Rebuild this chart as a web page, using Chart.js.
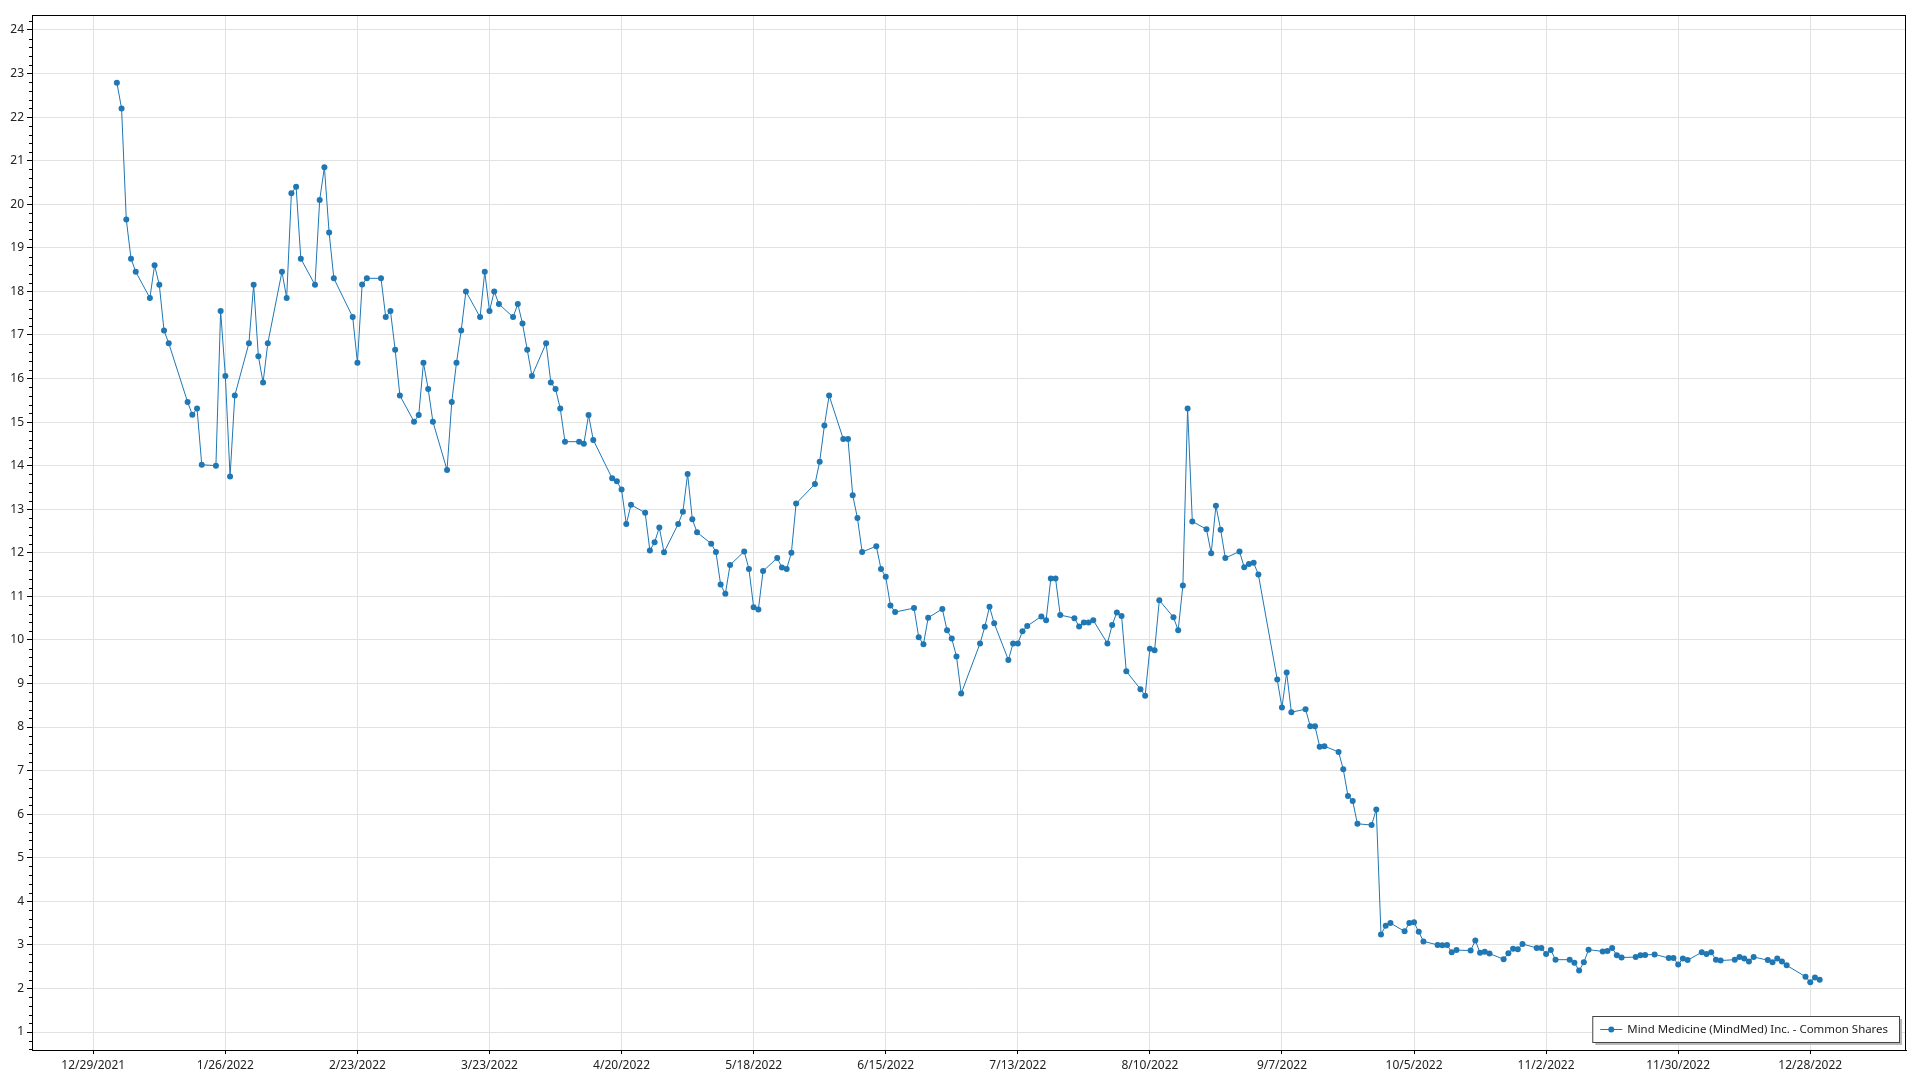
<!DOCTYPE html>
<html>
<head>
<meta charset="utf-8">
<script src="https://cdn.jsdelivr.net/npm/chart.js@4.4.1/dist/chart.umd.min.js"></script>
<style>
    html, body { margin: 0; padding: 0; background: #fff; }
    #chart { display: block; }
</style>
</head>
<body>
<canvas id="chart" width="1920" height="1080"></canvas>
<script>
// Serie: cierre diario 2022
const seriesLabel = 'Mind Medicine (MindMed) Inc. - Common Shares';

const dates = [
    '2022-01-03','2022-01-04','2022-01-05','2022-01-06','2022-01-07','2022-01-10','2022-01-11','2022-01-12','2022-01-13','2022-01-14',
    '2022-01-18','2022-01-19','2022-01-20','2022-01-21','2022-01-24','2022-01-25','2022-01-26','2022-01-27','2022-01-28','2022-01-31',
    '2022-02-01','2022-02-02','2022-02-03','2022-02-04','2022-02-07','2022-02-08','2022-02-09','2022-02-10','2022-02-11','2022-02-14',
    '2022-02-15','2022-02-16','2022-02-17','2022-02-18','2022-02-22','2022-02-23','2022-02-24','2022-02-25','2022-02-28',
    '2022-03-01','2022-03-02','2022-03-03','2022-03-04','2022-03-07','2022-03-08','2022-03-09','2022-03-10','2022-03-11','2022-03-14',
    '2022-03-15','2022-03-16','2022-03-17','2022-03-18','2022-03-21','2022-03-22','2022-03-23','2022-03-24','2022-03-25','2022-03-28',
    '2022-03-29','2022-03-30','2022-03-31',
    '2022-04-01','2022-04-04','2022-04-05','2022-04-06','2022-04-07','2022-04-08','2022-04-11','2022-04-12','2022-04-13','2022-04-14',
    '2022-04-18','2022-04-19','2022-04-20','2022-04-21','2022-04-22','2022-04-25','2022-04-26','2022-04-27','2022-04-28','2022-04-29',
    '2022-05-02','2022-05-03','2022-05-04','2022-05-05','2022-05-06','2022-05-09','2022-05-10','2022-05-11','2022-05-12','2022-05-13',
    '2022-05-16','2022-05-17','2022-05-18','2022-05-19','2022-05-20','2022-05-23','2022-05-24','2022-05-25','2022-05-26','2022-05-27',
    '2022-05-31',
    '2022-06-01','2022-06-02','2022-06-03','2022-06-06','2022-06-07','2022-06-08','2022-06-09','2022-06-10','2022-06-13','2022-06-14',
    '2022-06-15','2022-06-16','2022-06-17','2022-06-21','2022-06-22','2022-06-23','2022-06-24','2022-06-27','2022-06-28','2022-06-29',
    '2022-06-30',
    '2022-07-01','2022-07-05','2022-07-06','2022-07-07','2022-07-08','2022-07-11','2022-07-12','2022-07-13','2022-07-14','2022-07-15',
    '2022-07-18','2022-07-19','2022-07-20','2022-07-21','2022-07-22','2022-07-25','2022-07-26','2022-07-27','2022-07-28','2022-07-29',
    '2022-08-01','2022-08-02','2022-08-03','2022-08-04','2022-08-05','2022-08-08','2022-08-09','2022-08-10','2022-08-11','2022-08-12',
    '2022-08-15','2022-08-16','2022-08-17','2022-08-18','2022-08-19','2022-08-22','2022-08-23','2022-08-24','2022-08-25','2022-08-26',
    '2022-08-29','2022-08-30','2022-08-31',
    '2022-09-01','2022-09-02','2022-09-06','2022-09-07','2022-09-08','2022-09-09','2022-09-12','2022-09-13','2022-09-14','2022-09-15',
    '2022-09-16','2022-09-19','2022-09-20','2022-09-21','2022-09-22','2022-09-23','2022-09-26','2022-09-27','2022-09-28','2022-09-29',
    '2022-09-30',
    '2022-10-03','2022-10-04','2022-10-05','2022-10-06','2022-10-07','2022-10-10','2022-10-11','2022-10-12','2022-10-13','2022-10-14',
    '2022-10-17','2022-10-18','2022-10-19','2022-10-20','2022-10-21','2022-10-24','2022-10-25','2022-10-26','2022-10-27','2022-10-28',
    '2022-10-31',
    '2022-11-01','2022-11-02','2022-11-03','2022-11-04','2022-11-07','2022-11-08','2022-11-09','2022-11-10','2022-11-11','2022-11-14',
    '2022-11-15','2022-11-16','2022-11-17','2022-11-18','2022-11-21','2022-11-22','2022-11-23','2022-11-25','2022-11-28','2022-11-29',
    '2022-11-30',
    '2022-12-01','2022-12-02','2022-12-05','2022-12-06','2022-12-07','2022-12-08','2022-12-09','2022-12-12','2022-12-13','2022-12-14',
    '2022-12-15','2022-12-16','2022-12-19','2022-12-20','2022-12-21','2022-12-22','2022-12-23','2022-12-27','2022-12-28','2022-12-29',
    '2022-12-30'
];

const prices = [
    22.79, 22.20, 19.65, 18.75, 18.45, 17.85, 18.60, 18.15, 17.10, 16.81,
    15.46, 15.17, 15.31, 14.02, 14.00, 17.55, 16.06, 13.75, 15.61, 16.81,
    18.15, 16.51, 15.91, 16.81, 18.45, 17.85, 20.25, 20.40, 18.75, 18.15,
    20.10, 20.85, 19.35, 18.30, 17.41, 16.36, 18.16, 18.30, 18.30,
    17.41, 17.55, 16.66, 15.61, 15.01, 15.16, 16.36, 15.76, 15.01, 13.90,
    15.46, 16.36, 17.10, 18.00, 17.41, 18.45, 17.55, 18.00, 17.71, 17.41,
    17.71, 17.26, 16.66,
    16.06, 16.81, 15.91, 15.76, 15.31, 14.55, 14.55, 14.50, 15.16, 14.59,
    13.71, 13.64, 13.45, 12.66, 13.10, 12.92, 12.05, 12.24, 12.58, 12.01,
    12.66, 12.94, 13.81, 12.77, 12.47, 12.21, 12.02, 11.27, 11.06, 11.72,
    12.03, 11.63, 10.75, 10.70, 11.58, 11.88, 11.66, 11.63, 12.00, 13.13,
    13.58,
    14.09, 14.92, 15.61, 14.61, 14.61, 13.32, 12.80, 12.02, 12.15, 11.63,
    11.45, 10.79, 10.64, 10.73, 10.06, 9.90, 10.51, 10.71, 10.22, 10.03,
    9.62,
    8.77, 9.92, 10.30, 10.76, 10.38, 9.54, 9.92, 9.92, 10.20, 10.32,
    10.54, 10.45, 11.41, 11.41, 10.57, 10.50, 10.31, 10.40, 10.40, 10.45,
    9.92, 10.34, 10.63, 10.55, 9.28, 8.87, 8.72, 9.80, 9.76, 10.91,
    10.52, 10.22, 11.25, 15.31, 12.72, 12.54, 11.99, 13.08, 12.53, 11.88,
    12.03, 11.67, 11.74,
    11.77, 11.50, 9.09, 8.45, 9.25, 8.34, 8.41, 8.02, 8.02, 7.55,
    7.56, 7.43, 7.03, 6.42, 6.30, 5.78, 5.75, 6.11, 3.24, 3.44,
    3.50,
    3.31, 3.50, 3.52, 3.30, 3.08, 3.00, 2.99, 3.00, 2.83, 2.88,
    2.87, 3.10, 2.82, 2.84, 2.80, 2.67, 2.81, 2.91, 2.90, 3.02,
    2.93,
    2.93, 2.79, 2.88, 2.66, 2.66, 2.59, 2.41, 2.60, 2.89, 2.85,
    2.86, 2.93, 2.76, 2.71, 2.72, 2.76, 2.77, 2.78, 2.70, 2.70,
    2.55,
    2.69, 2.65, 2.83, 2.79, 2.83, 2.66, 2.64, 2.66, 2.72, 2.69,
    2.62, 2.72, 2.65, 2.60, 2.69, 2.62, 2.53, 2.27, 2.14, 2.25,
    2.20
];

// Etiquetas de ejes
const xTickLabels = ['12/29/2021', '1/26/2022', '2/23/2022', '3/23/2022', '4/20/2022', '5/18/2022', '6/15/2022',
    '7/13/2022', '8/10/2022', '9/7/2022', '10/5/2022', '11/2/2022', '11/30/2022', '12/28/2022'];
const yTickValues = [1, 2, 3, 4, 5, 6, 7, 8, 9, 10, 11, 12, 13, 14, 15, 16, 17, 18, 19, 20, 21, 22, 23, 24];

const DAY = 86400000;
const LINE_COLOR = '#1f77b4';
const GRID_COLOR = '#e2e2e2';
const FONT = "'Noto Sans', 'DejaVu Sans', sans-serif";

function parseIso(s) {
    const [y, m, d] = s.split('-').map(Number);
    return Date.UTC(y, m - 1, d);
}

function parseUs(s) {
    const [m, d, y] = s.split('/').map(Number);
    return Date.UTC(y, m - 1, d);
}

const xTickTimes = xTickLabels.map(parseUs);
const origin = xTickTimes[0];

const points = dates.map((d, i) => ({ x: parseIso(d), y: prices[i] }));

/**
 * Marco, ticks menores y leyenda
 */
const framePlugin = {
    id: 'frame',
    afterDraw(chart) {
        const { ctx, chartArea } = chart;
        const yScale = chart.scales.y;
        ctx.save();

        // ticks menores del eje Y
        ctx.strokeStyle = '#000';
        ctx.lineWidth = 1;
        ctx.beginPath();
        for (let v = 0.6; v < yScale.max; v += 0.2) {
            const r = Math.round(v * 10) / 10;
            if (Number.isInteger(r)) continue;
            const py = Math.round(yScale.getPixelForValue(r)) + 0.5;
            ctx.moveTo(chartArea.left - 3, py);
            ctx.lineTo(chartArea.left, py);
        }
        ctx.stroke();

        // marco
        ctx.strokeRect(Math.round(chartArea.left) + 0.5, Math.round(chartArea.top) + 0.5,
            Math.round(chartArea.right - chartArea.left) - 1, Math.round(chartArea.bottom - chartArea.top));

        // leyenda
        let size = 12;
        ctx.font = size + 'px ' + FONT;
        const w0 = ctx.measureText(seriesLabel).width;
        if (w0 > 261) {
            size = size * 261 / w0;
            ctx.font = size.toFixed(2) + 'px ' + FONT;
        }
        const textW = ctx.measureText(seriesLabel).width;
        const boxR = chartArea.right - 7;
        const boxB = chartArea.bottom - 8;
        const boxH = 26;
        const boxW = textW + 46;
        const boxL = boxR - boxW;
        const boxT = boxB - boxH;

        ctx.fillStyle = '#b8b8b8';
        ctx.fillRect(boxL + 3, boxT + 3, boxW, boxH);
        ctx.fillStyle = '#fff';
        ctx.fillRect(boxL, boxT, boxW, boxH);
        ctx.strokeStyle = '#444';
        ctx.strokeRect(boxL + 0.5, boxT + 0.5, boxW, boxH);

        const cy = boxT + boxH / 2 + 0.5;
        ctx.strokeStyle = LINE_COLOR;
        ctx.beginPath();
        ctx.moveTo(boxL + 8, cy);
        ctx.lineTo(boxL + 30, cy);
        ctx.stroke();
        ctx.fillStyle = LINE_COLOR;
        ctx.beginPath();
        ctx.arc(boxL + 19, cy, 3, 0, Math.PI * 2);
        ctx.fill();

        ctx.fillStyle = '#222';
        ctx.textBaseline = 'middle';
        ctx.fillText(seriesLabel, boxL + 35, cy);
        ctx.restore();
    }
};

const ctx = document.getElementById('chart').getContext('2d');
new Chart(ctx, {
    type: 'line',
    data: {
        datasets: [{
            label: seriesLabel,
            data: points,
            borderColor: LINE_COLOR,
            backgroundColor: LINE_COLOR,
            borderWidth: 1,
            pointRadius: 3,
            pointBorderWidth: 0,
            pointBackgroundColor: LINE_COLOR,
            tension: 0
        }]
    },
    options: {
        responsive: false,
        animation: false,
        devicePixelRatio: 1,
        layout: { padding: { top: 15, right: 14, left: 0, bottom: 0 } },
        plugins: {
            legend: { display: false },
            tooltip: { enabled: false }
        },
        scales: {
            x: {
                type: 'linear',
                min: origin - 12.99 * DAY,
                max: origin + 384.3 * DAY,
                afterBuildTicks: (scale) => { scale.ticks = xTickTimes.map(v => ({ value: v })); },
                afterFit: (scale) => { scale.height = 30; },
                grid: { color: GRID_COLOR, tickColor: '#000', tickLength: 4 },
                border: { color: '#000', width: 1 },
                ticks: {
                    autoSkip: false,
                    maxRotation: 0,
                    padding: 4,
                    color: '#222',
                    font: { family: FONT, size: 12 },
                    callback: (v) => xTickLabels[xTickTimes.indexOf(v)] || ''
                }
            },
            y: {
                type: 'linear',
                min: 0.587,
                max: 24.344,
                afterBuildTicks: (scale) => { scale.ticks = yTickValues.map(v => ({ value: v })); },
                afterFit: (scale) => { scale.width = 32; },
                grid: { color: GRID_COLOR, tickColor: '#000', tickLength: 5 },
                border: { color: '#000', width: 1 },
                ticks: {
                    padding: 3,
                    color: '#222',
                    font: { family: FONT, size: 12 },
                    callback: (v) => String(v)
                }
            }
        }
    },
    plugins: [framePlugin]
});
</script>
</body>
</html>
